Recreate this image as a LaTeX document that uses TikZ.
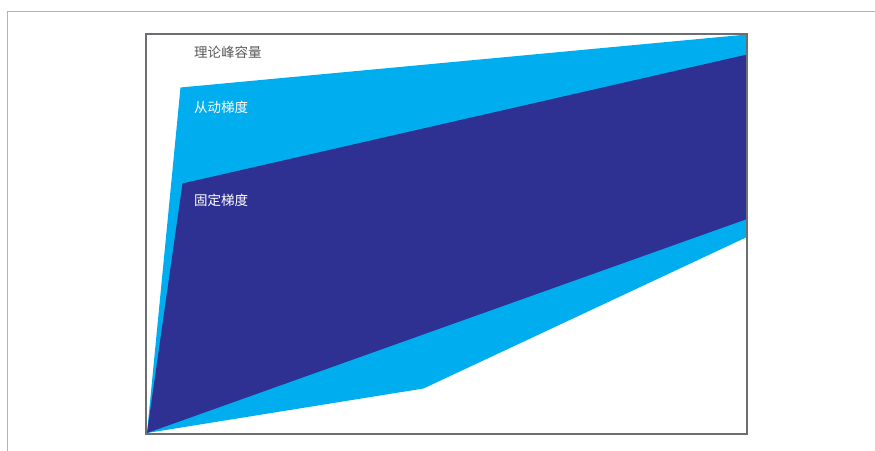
\documentclass[tikz,border=0pt]{standalone}
\usepackage{fontspec}
\newfontfamily\cjk{Noto Sans CJK SC}
\definecolor{lblue}{HTML}{00AEEF}
\definecolor{dblue}{HTML}{2E3192}
\definecolor{frameg}{HTML}{6D6E71}
\definecolor{outerg}{HTML}{B3B3B3}
\definecolor{txtg}{HTML}{58595B}
\begin{document}
\begin{tikzpicture}[x=1pt,y=-1pt,
  lbl/.style={anchor=west,inner sep=0pt,font=\cjk\fontsize{13.5}{14}\selectfont}]
\useasboundingbox (0,0) rectangle (875,450);
% outer frame
\draw[outerg,line width=1.5pt] (7.5,452) -- (7.5,11.5) -- (877,11.5);
% light blue area
\coordinate (o) at (147,433);
\fill[lblue] (o) -- (180.5,87.5) -- (747,34.5) -- (747,237) -- (423.5,388.5) -- cycle;
% dark blue area
\fill[dblue] (o) -- (182.5,183.5) -- (747,54.5) -- (747,219) -- cycle;
% inner frame
\draw[frameg,line width=2.2pt] (146,34) rectangle (747,434);
% labels
\node[lbl,text=txtg] (cap) at (194,52) {理论峰容量};
\node[lbl,text=white] (act) at (194,107) {从动梯度};
\node[lbl,text=white] (fix) at (194,200) {固定梯度};
\end{tikzpicture}
\end{document}
